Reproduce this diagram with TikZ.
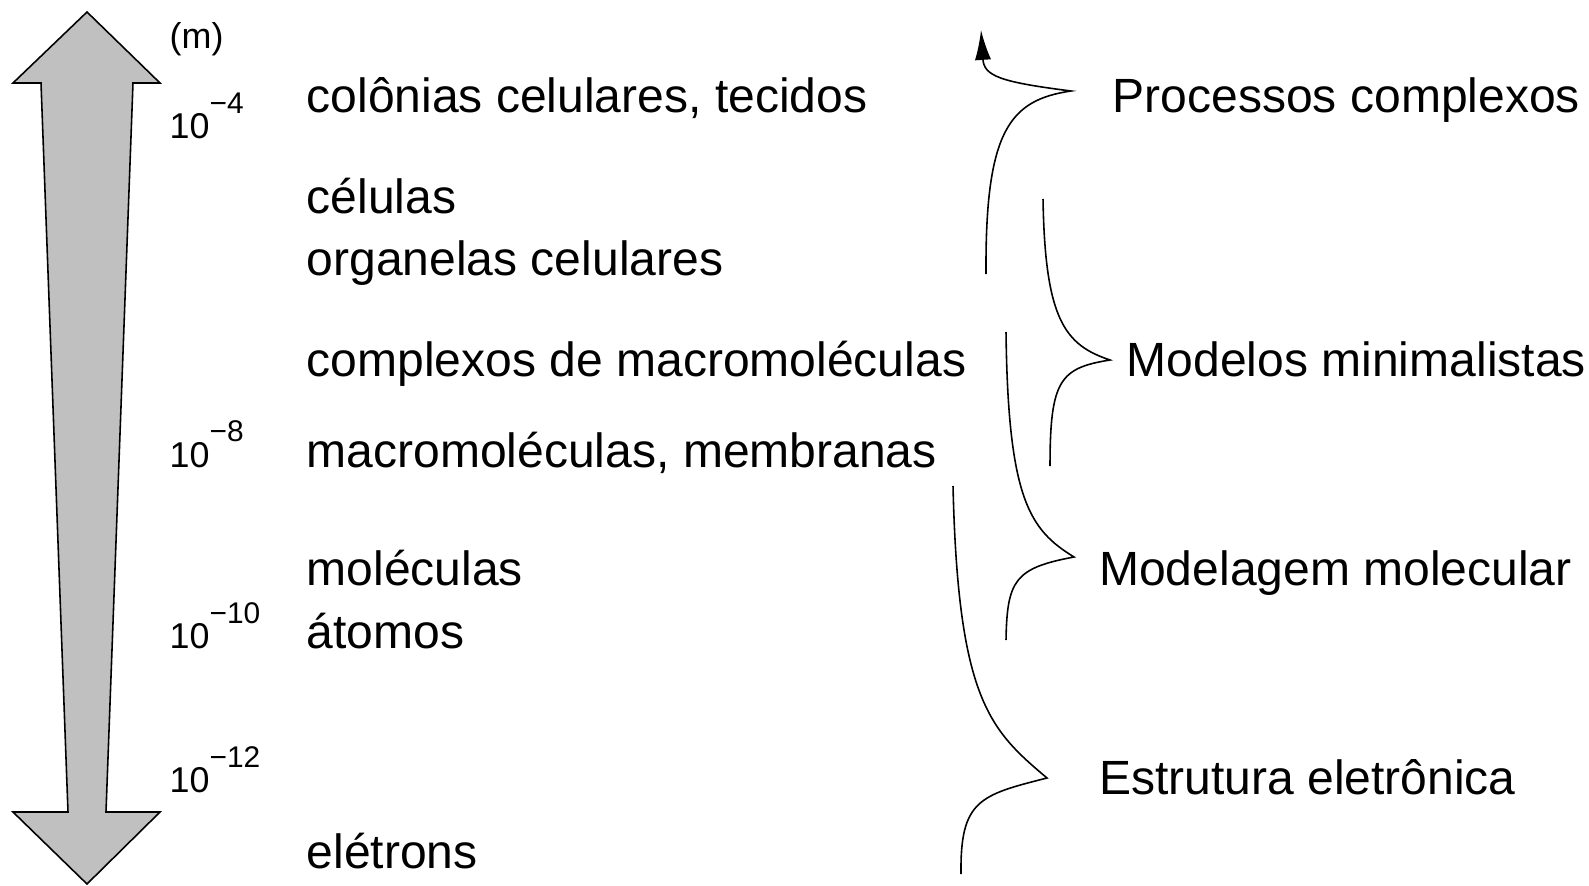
\documentclass[tikz,border=0pt]{standalone}
\usepackage{fontspec}
\setmainfont{Liberation Sans}
\usepackage{tikz}
\usetikzlibrary{arrows.meta}

\definecolor{shaftgray}{RGB}{192,192,192}
\newcommand{\pot}[1]{10\raisebox{7.2pt}{\fontsize{8.5}{10}\selectfont −#1}}

\begin{document}
\begin{tikzpicture}[x=0.01cm, y=-0.01cm,
    lvl/.style={anchor=base west, inner sep=0pt, font=\fontsize{13.66}{16}\selectfont},
    unit/.style={anchor=base west, inner sep=0pt, font=\fontsize{10.2}{12}\selectfont},
    brace/.style={line width=0.45pt}]
    \useasboundingbox (0,0) rectangle (1589,885);

    % scale arrow
    \draw[fill=shaftgray, line width=0.45pt, line join=miter]
        (87,12) -- (160,83) -- (133,83) -- (106,812) -- (160,812) -- (87,884)
        -- (13,812) -- (68,812) -- (41,83) -- (13,83) -- cycle;

    % sizes
    \node[unit] (m)   at (169,49)    {(m)};
    \node[unit] (p4)  at (169,139)   {\pot{4}};
    \node[unit] (p8)  at (169,467)   {\pot{8}};
    \node[unit] (p10) at (169,648.5) {\pot{10}};
    \node[unit] (p12) at (169,792.5) {\pot{12}};

    % levels
    \node[lvl] (colonias)   at (306,112.5) {colônias celulares, tecidos};
    \node[lvl] (celulas)    at (306,213)   {células};
    \node[lvl] (organelas)  at (306,275.5) {organelas celulares};
    \node[lvl] (complexos)  at (306,376)   {complexos de macromoléculas};
    \node[lvl] (macro)      at (306,467)   {macromoléculas, membranas};
    \node[lvl] (moleculas)  at (306,585)   {moléculas};
    \node[lvl] (atomos)     at (306,648.5) {átomos};
    \node[lvl] (eletrons)   at (306,868.5) {elétrons};

    % methods
    \node[lvl] (processos)  at (1112,112.5) {Processos complexos};
    \node[lvl] (minimal)    at (1126,376)   {Modelos minimalistas};
    \node[lvl] (modelagem)  at (1098.5,585) {Modelagem molecular};
    \node[lvl] (estrutura)  at (1098.5,794.5) {Estrutura eletrônica};

    % brace ends and tips
    \coordinate (b1bot) at (986,274);
    \coordinate (b1tip) at (1071,91);
    \coordinate (b1top) at (981,30);
    \coordinate (b2top) at (1043,199);
    \coordinate (b2tip) at (1110,360);
    \coordinate (b2bot) at (1050,466);
    \coordinate (b3top) at (1006,332);
    \coordinate (b3tip) at (1074,557);
    \coordinate (b3bot) at (1006,640);
    \coordinate (b4top) at (953,486);
    \coordinate (b4tip) at (1047,778);
    \coordinate (b4bot) at (961,874);

    % braces
    \draw[brace, -{Latex[length=8.5pt, width=4.6pt]}]
        (b1bot) .. controls (985,130) and (1010,100) .. (b1tip)
        .. controls (1000,82) and (984,76) .. (b1top);
    \draw[brace] (b2top) .. controls (1045,320) and (1065,345) .. (b2tip)
        .. controls (1060,368) and (1050,380) .. (b2bot);
    \draw[brace] (b3top) .. controls (1008,500) and (1030,530) .. (b3tip)
        .. controls (1015,568) and (1007,580) .. (b3bot);
    \draw[brace] (b4top) .. controls (958,700) and (990,730) .. (b4tip)
        .. controls (980,795) and (960,800) .. (b4bot);

\end{tikzpicture}
\end{document}
